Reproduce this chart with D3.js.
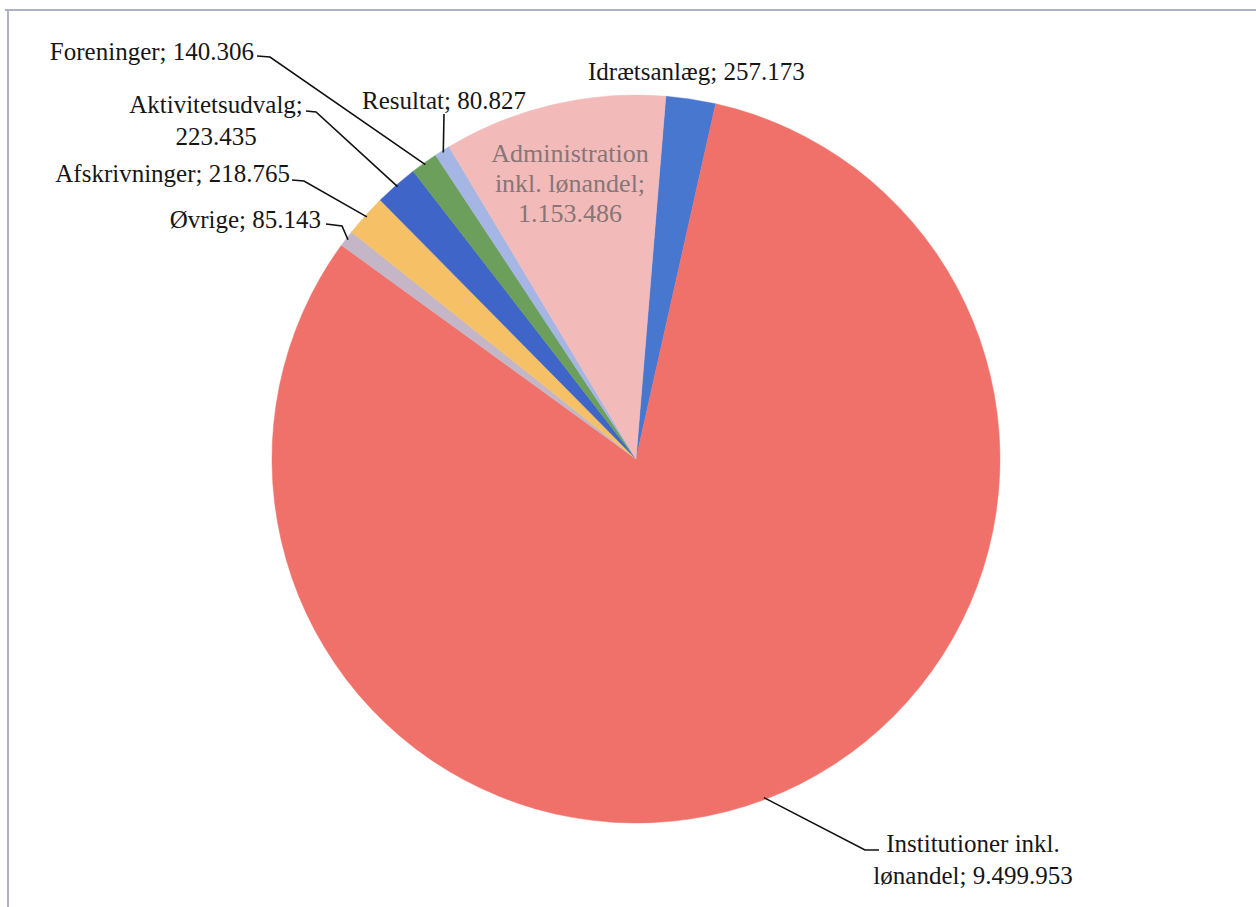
<!DOCTYPE html>
<html>
<head>
<meta charset="utf-8">
<script src="https://cdn.jsdelivr.net/npm/d3@7"></script>
<style>
  html, body { margin: 0; padding: 0; background: #ffffff; }
  svg { display: block; }
</style>
</head>
<body>
<svg id="chart" width="1256" height="907"></svg>
<script>
// ---- data ----
const categories = [
  "Idrætsanlæg",
  "Institutioner inkl. lønandel",
  "Øvrige",
  "Afskrivninger",
  "Aktivitetsudvalg",
  "Foreninger",
  "Resultat",
  "Administration inkl. lønandel"
];
const values = [257173, 9499953, 85143, 218765, 223435, 140306, 80827, 1153486];
const valueLabels = ["257.173", "9.499.953", "85.143", "218.765", "223.435", "140.306", "80.827", "1.153.486"];
const colors = ["#4877d0", "#f0716a", "#c4b6c6", "#f6c166", "#3f65c9", "#6c9f5c", "#a5b5e4", "#f3baba"];

// ---- layout (label placement) ----
const labelLayout = [
  { lines: ["Idrætsanlæg; 257.173"], x: 588, y: 80, anchor: "start", leader: false },
  { lines: ["Institutioner inkl.", "lønandel; 9.499.953"], x: 973, y: 852, anchor: "middle", leader: [[865, 850], [879, 850]] },
  { lines: ["Øvrige; 85.143"], x: 321, y: 228, anchor: "end", leader: [[342, 226], [326, 224]] },
  { lines: ["Afskrivninger; 218.765"], x: 290, y: 182, anchor: "end", leader: [[304, 181], [292, 180]] },
  { lines: ["Aktivitetsudvalg;", "223.435"], x: 216, y: 113, anchor: "middle", leader: [[316, 112], [306, 111]] },
  { lines: ["Foreninger; 140.306"], x: 254, y: 60, anchor: "end", leader: [[270, 57], [257, 56]] },
  { lines: ["Resultat; 80.827"], x: 362, y: 109, anchor: "start", leader: [[444, 114]] },
  { lines: ["Administration", "inkl. lønandel;", "1.153.486"], inside: true, x: 570, y: 162, anchor: "middle", leader: false }
];

const W = 1256, H = 907;
const cx = 636, cy = 459, R = 364;
const startOffset = 4.7 * Math.PI / 180;

const svg = d3.select("#chart");

// frame lines
svg.append("line").attr("x1", 5).attr("y1", 10).attr("x2", W).attr("y2", 10)
  .attr("stroke", "#aeb0c6").attr("stroke-width", 2);
svg.append("line").attr("x1", 8).attr("y1", 10).attr("x2", 8).attr("y2", H)
  .attr("stroke", "#aeb0c6").attr("stroke-width", 2);

const data = categories.map((c, i) => ({ cat: c, value: values[i], label: valueLabels[i], color: colors[i], layout: labelLayout[i] }));

const pie = d3.pie().value(d => d.value).sort(null)
  .startAngle(startOffset).endAngle(startOffset + 2 * Math.PI);
const arcs = pie(data);

const arc = d3.arc().innerRadius(0).outerRadius(R);
const edgeArc = d3.arc().innerRadius(R - 2).outerRadius(R - 2);

const g = svg.append("g").attr("transform", `translate(${cx},${cy})`);
g.selectAll("path.slice").data(arcs).enter().append("path")
  .attr("class", "slice")
  .attr("d", arc)
  .attr("fill", d => d.data.color)
  .attr("stroke", d => d.data.color)
  .attr("stroke-width", 0.5);

const fontFamily = "'Liberation Serif', 'DejaVu Serif', serif";
const fontSize = 25;
const lineH = 32;

// leader lines
arcs.forEach(a => {
  const L = a.data.layout;
  if (!L.leader) return;
  const c = edgeArc.centroid(a);
  const pts = [[c[0] + cx, c[1] + cy]].concat(L.leader);
  svg.append("path")
    .attr("d", d3.line()(pts))
    .attr("fill", "none")
    .attr("stroke", "#111")
    .attr("stroke-width", 1.6);
});

// labels
arcs.forEach(a => {
  const L = a.data.layout;
  const t = svg.append("text")
    .attr("x", L.x).attr("y", L.y)
    .attr("text-anchor", L.anchor)
    .attr("font-family", fontFamily)
    .attr("font-size", L.inside ? 26 : fontSize)
    .attr("fill", L.inside ? "#867676" : "#161616");
  L.lines.forEach((ln, i) => {
    t.append("tspan").attr("x", L.x).attr("dy", i === 0 ? 0 : (L.inside ? 30 : lineH)).text(ln);
  });
});
</script>
</body>
</html>
